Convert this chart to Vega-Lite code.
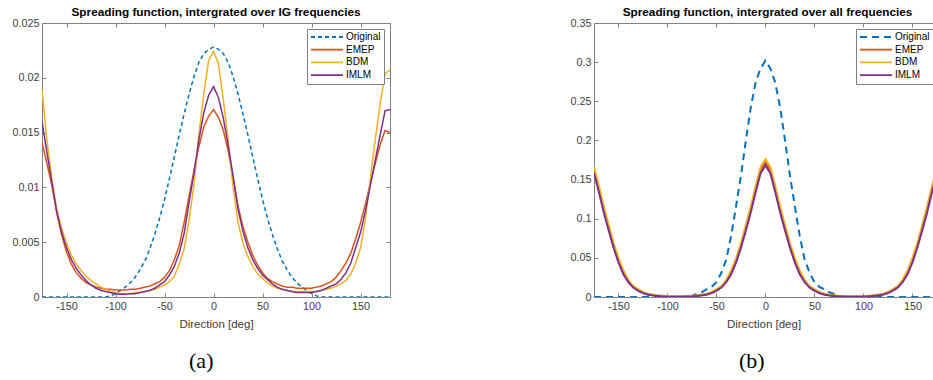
{
"$schema": "https://vega.github.io/schema/vega-lite/v6.json",
"padding": {"left": 11, "top": 7, "right": 0, "bottom": 0},
"config": {
  "font": "Liberation Sans",
  "view": {"stroke": null},
  "axis": {"domainColor": "#808080", "tickColor": "#808080", "labelColor": "#404040", "titleColor": "#404040", "labelFontSize": 10.8, "titleFontSize": 11.5, "titleFontWeight": "normal", "grid": false, "tickSize": -4, "labelPadding": 7, "labelOverlap": false},
  "title": {"fontSize": 11.8, "fontWeight": "bold", "color": "#000000"},
  "legend": {"orient": "none", "legendX": 265, "legendY": 6, "title": null, "symbolType": "M-1,0H7", "symbolSize": 64, "symbolStrokeWidth": 1.8, "labelFontSize": 10, "labelColor": "#000000", "fillColor": "white", "strokeColor": "#808080", "padding": 3, "rowPadding": 2.7, "labelOffset": 26, "cornerRadius": 0}
},
"datasets": {
"a": [
{"s":"Original","d":-175,"v":0},{"s":"Original","d":-170,"v":0},{"s":"Original","d":-165,"v":0},{"s":"Original","d":-160,"v":0},{"s":"Original","d":-155,"v":0},{"s":"Original","d":-150,"v":0},{"s":"Original","d":-145,"v":0},{"s":"Original","d":-140,"v":0},{"s":"Original","d":-135,"v":0},{"s":"Original","d":-130,"v":0},{"s":"Original","d":-125,"v":0},{"s":"Original","d":-120,"v":0},{"s":"Original","d":-115,"v":0},{"s":"Original","d":-110,"v":0},{"s":"Original","d":-105,"v":0.0001},{"s":"Original","d":-100,"v":0.0003},{"s":"Original","d":-95,"v":0.0006},{"s":"Original","d":-90,"v":0.0009},{"s":"Original","d":-85,"v":0.0013},{"s":"Original","d":-80,"v":0.0018},{"s":"Original","d":-75,"v":0.0025},{"s":"Original","d":-70,"v":0.0033},{"s":"Original","d":-65,"v":0.0044},{"s":"Original","d":-60,"v":0.0057},{"s":"Original","d":-55,"v":0.0072},{"s":"Original","d":-50,"v":0.0089},{"s":"Original","d":-45,"v":0.0108},{"s":"Original","d":-40,"v":0.0128},{"s":"Original","d":-35,"v":0.0148},{"s":"Original","d":-30,"v":0.0167},{"s":"Original","d":-25,"v":0.0185},{"s":"Original","d":-20,"v":0.0201},{"s":"Original","d":-15,"v":0.0214},{"s":"Original","d":-10,"v":0.0222},{"s":"Original","d":-5,"v":0.0226},{"s":"Original","d":0,"v":0.0228},{"s":"Original","d":5,"v":0.0226},{"s":"Original","d":10,"v":0.0222},{"s":"Original","d":15,"v":0.0214},{"s":"Original","d":20,"v":0.0201},{"s":"Original","d":25,"v":0.0185},{"s":"Original","d":30,"v":0.0167},{"s":"Original","d":35,"v":0.0148},{"s":"Original","d":40,"v":0.0128},{"s":"Original","d":45,"v":0.0108},{"s":"Original","d":50,"v":0.0089},{"s":"Original","d":55,"v":0.0072},{"s":"Original","d":60,"v":0.0057},{"s":"Original","d":65,"v":0.0044},{"s":"Original","d":70,"v":0.0033},{"s":"Original","d":75,"v":0.0025},{"s":"Original","d":80,"v":0.0018},{"s":"Original","d":85,"v":0.0013},{"s":"Original","d":90,"v":0.0009},{"s":"Original","d":95,"v":0.0006},{"s":"Original","d":100,"v":0.0003},{"s":"Original","d":105,"v":0.0001},{"s":"Original","d":110,"v":0},{"s":"Original","d":120,"v":0},{"s":"Original","d":130,"v":0},{"s":"Original","d":140,"v":0},{"s":"Original","d":150,"v":0},{"s":"Original","d":160,"v":0},{"s":"Original","d":170,"v":0},{"s":"Original","d":180,"v":0},
{"s":"EMEP","d":-175,"v":0.0141},{"s":"EMEP","d":-170,"v":0.0122},{"s":"EMEP","d":-165,"v":0.0102},{"s":"EMEP","d":-160,"v":0.0077},{"s":"EMEP","d":-155,"v":0.0057},{"s":"EMEP","d":-150,"v":0.0041},{"s":"EMEP","d":-145,"v":0.0030},{"s":"EMEP","d":-140,"v":0.0022},{"s":"EMEP","d":-135,"v":0.0017},{"s":"EMEP","d":-130,"v":0.0013},{"s":"EMEP","d":-125,"v":0.0011},{"s":"EMEP","d":-120,"v":0.0009},{"s":"EMEP","d":-115,"v":0.0008},{"s":"EMEP","d":-110,"v":0.0007},{"s":"EMEP","d":-105,"v":0.0007},{"s":"EMEP","d":-100,"v":0.00065},{"s":"EMEP","d":-95,"v":0.00063},{"s":"EMEP","d":-90,"v":0.00065},{"s":"EMEP","d":-85,"v":0.0007},{"s":"EMEP","d":-80,"v":0.0007},{"s":"EMEP","d":-75,"v":0.0008},{"s":"EMEP","d":-70,"v":0.0009},{"s":"EMEP","d":-65,"v":0.0010},{"s":"EMEP","d":-60,"v":0.0012},{"s":"EMEP","d":-55,"v":0.0014},{"s":"EMEP","d":-50,"v":0.0018},{"s":"EMEP","d":-45,"v":0.0024},{"s":"EMEP","d":-40,"v":0.0034},{"s":"EMEP","d":-35,"v":0.0047},{"s":"EMEP","d":-30,"v":0.0068},{"s":"EMEP","d":-25,"v":0.0092},{"s":"EMEP","d":-20,"v":0.0115},{"s":"EMEP","d":-15,"v":0.0137},{"s":"EMEP","d":-10,"v":0.0155},{"s":"EMEP","d":-5,"v":0.0165},{"s":"EMEP","d":0,"v":0.0171},{"s":"EMEP","d":5,"v":0.0164},{"s":"EMEP","d":10,"v":0.0152},{"s":"EMEP","d":15,"v":0.0133},{"s":"EMEP","d":20,"v":0.0108},{"s":"EMEP","d":25,"v":0.0083},{"s":"EMEP","d":30,"v":0.0064},{"s":"EMEP","d":35,"v":0.0050},{"s":"EMEP","d":40,"v":0.0038},{"s":"EMEP","d":45,"v":0.0029},{"s":"EMEP","d":50,"v":0.0022},{"s":"EMEP","d":55,"v":0.0017},{"s":"EMEP","d":60,"v":0.0014},{"s":"EMEP","d":65,"v":0.0012},{"s":"EMEP","d":70,"v":0.0010},{"s":"EMEP","d":75,"v":0.0009},{"s":"EMEP","d":80,"v":0.0009},{"s":"EMEP","d":85,"v":0.0008},{"s":"EMEP","d":90,"v":0.0008},{"s":"EMEP","d":95,"v":0.0008},{"s":"EMEP","d":100,"v":0.0008},{"s":"EMEP","d":105,"v":0.0009},{"s":"EMEP","d":110,"v":0.0010},{"s":"EMEP","d":115,"v":0.0012},{"s":"EMEP","d":120,"v":0.0014},{"s":"EMEP","d":125,"v":0.0018},{"s":"EMEP","d":130,"v":0.0024},{"s":"EMEP","d":135,"v":0.0031},{"s":"EMEP","d":140,"v":0.0040},{"s":"EMEP","d":145,"v":0.0053},{"s":"EMEP","d":150,"v":0.0068},{"s":"EMEP","d":155,"v":0.0085},{"s":"EMEP","d":160,"v":0.0104},{"s":"EMEP","d":165,"v":0.0122},{"s":"EMEP","d":170,"v":0.0139},{"s":"EMEP","d":175,"v":0.0152},{"s":"EMEP","d":180,"v":0.0150},
{"s":"BDM","d":-175,"v":0.0189},{"s":"BDM","d":-170,"v":0.0143},{"s":"BDM","d":-165,"v":0.0108},{"s":"BDM","d":-160,"v":0.0080},{"s":"BDM","d":-155,"v":0.0063},{"s":"BDM","d":-150,"v":0.0049},{"s":"BDM","d":-145,"v":0.0038},{"s":"BDM","d":-140,"v":0.0030},{"s":"BDM","d":-135,"v":0.0024},{"s":"BDM","d":-130,"v":0.0019},{"s":"BDM","d":-125,"v":0.0015},{"s":"BDM","d":-120,"v":0.0012},{"s":"BDM","d":-115,"v":0.0009},{"s":"BDM","d":-110,"v":0.0007},{"s":"BDM","d":-105,"v":0.0005},{"s":"BDM","d":-100,"v":0.0004},{"s":"BDM","d":-95,"v":0.0003},{"s":"BDM","d":-90,"v":0.0003},{"s":"BDM","d":-85,"v":0.0003},{"s":"BDM","d":-80,"v":0.0004},{"s":"BDM","d":-75,"v":0.0004},{"s":"BDM","d":-70,"v":0.0005},{"s":"BDM","d":-65,"v":0.0006},{"s":"BDM","d":-60,"v":0.0007},{"s":"BDM","d":-55,"v":0.0009},{"s":"BDM","d":-50,"v":0.0011},{"s":"BDM","d":-45,"v":0.0014},{"s":"BDM","d":-40,"v":0.0019},{"s":"BDM","d":-35,"v":0.0030},{"s":"BDM","d":-30,"v":0.0044},{"s":"BDM","d":-25,"v":0.0070},{"s":"BDM","d":-20,"v":0.0102},{"s":"BDM","d":-15,"v":0.0148},{"s":"BDM","d":-10,"v":0.0185},{"s":"BDM","d":-5,"v":0.0216},{"s":"BDM","d":0,"v":0.0224},{"s":"BDM","d":5,"v":0.0213},{"s":"BDM","d":10,"v":0.0180},{"s":"BDM","d":15,"v":0.0142},{"s":"BDM","d":20,"v":0.0100},{"s":"BDM","d":25,"v":0.0068},{"s":"BDM","d":30,"v":0.0049},{"s":"BDM","d":35,"v":0.0037},{"s":"BDM","d":40,"v":0.0028},{"s":"BDM","d":45,"v":0.0021},{"s":"BDM","d":50,"v":0.0017},{"s":"BDM","d":55,"v":0.0013},{"s":"BDM","d":60,"v":0.0010},{"s":"BDM","d":65,"v":0.0008},{"s":"BDM","d":70,"v":0.0007},{"s":"BDM","d":75,"v":0.0006},{"s":"BDM","d":80,"v":0.0005},{"s":"BDM","d":85,"v":0.0005},{"s":"BDM","d":90,"v":0.0005},{"s":"BDM","d":95,"v":0.0005},{"s":"BDM","d":100,"v":0.0005},{"s":"BDM","d":105,"v":0.0005},{"s":"BDM","d":110,"v":0.0006},{"s":"BDM","d":115,"v":0.0007},{"s":"BDM","d":120,"v":0.0008},{"s":"BDM","d":125,"v":0.0010},{"s":"BDM","d":130,"v":0.0012},{"s":"BDM","d":135,"v":0.0015},{"s":"BDM","d":140,"v":0.0021},{"s":"BDM","d":145,"v":0.0031},{"s":"BDM","d":150,"v":0.0045},{"s":"BDM","d":155,"v":0.0072},{"s":"BDM","d":160,"v":0.0108},{"s":"BDM","d":165,"v":0.0144},{"s":"BDM","d":170,"v":0.0176},{"s":"BDM","d":175,"v":0.0204},{"s":"BDM","d":180,"v":0.0207},
{"s":"IMLM","d":-175,"v":0.0160},{"s":"IMLM","d":-170,"v":0.0132},{"s":"IMLM","d":-165,"v":0.0105},{"s":"IMLM","d":-160,"v":0.0078},{"s":"IMLM","d":-155,"v":0.0059},{"s":"IMLM","d":-150,"v":0.0045},{"s":"IMLM","d":-145,"v":0.0034},{"s":"IMLM","d":-140,"v":0.0026},{"s":"IMLM","d":-135,"v":0.0020},{"s":"IMLM","d":-130,"v":0.0015},{"s":"IMLM","d":-125,"v":0.0011},{"s":"IMLM","d":-120,"v":0.0008},{"s":"IMLM","d":-115,"v":0.0006},{"s":"IMLM","d":-110,"v":0.0005},{"s":"IMLM","d":-105,"v":0.0004},{"s":"IMLM","d":-100,"v":0.0003},{"s":"IMLM","d":-95,"v":0.00025},{"s":"IMLM","d":-90,"v":0.00025},{"s":"IMLM","d":-85,"v":0.0003},{"s":"IMLM","d":-80,"v":0.0003},{"s":"IMLM","d":-75,"v":0.0004},{"s":"IMLM","d":-70,"v":0.0005},{"s":"IMLM","d":-65,"v":0.0006},{"s":"IMLM","d":-60,"v":0.0008},{"s":"IMLM","d":-55,"v":0.0011},{"s":"IMLM","d":-50,"v":0.0014},{"s":"IMLM","d":-45,"v":0.0020},{"s":"IMLM","d":-40,"v":0.0028},{"s":"IMLM","d":-35,"v":0.0040},{"s":"IMLM","d":-30,"v":0.0058},{"s":"IMLM","d":-25,"v":0.0086},{"s":"IMLM","d":-20,"v":0.0113},{"s":"IMLM","d":-15,"v":0.0143},{"s":"IMLM","d":-10,"v":0.0168},{"s":"IMLM","d":-5,"v":0.0184},{"s":"IMLM","d":0,"v":0.0192},{"s":"IMLM","d":5,"v":0.0182},{"s":"IMLM","d":10,"v":0.0163},{"s":"IMLM","d":15,"v":0.0138},{"s":"IMLM","d":20,"v":0.0110},{"s":"IMLM","d":25,"v":0.0080},{"s":"IMLM","d":30,"v":0.0060},{"s":"IMLM","d":35,"v":0.0045},{"s":"IMLM","d":40,"v":0.0034},{"s":"IMLM","d":45,"v":0.0026},{"s":"IMLM","d":50,"v":0.0020},{"s":"IMLM","d":55,"v":0.0016},{"s":"IMLM","d":60,"v":0.0012},{"s":"IMLM","d":65,"v":0.0009},{"s":"IMLM","d":70,"v":0.0007},{"s":"IMLM","d":75,"v":0.0006},{"s":"IMLM","d":80,"v":0.0005},{"s":"IMLM","d":85,"v":0.0004},{"s":"IMLM","d":90,"v":0.0004},{"s":"IMLM","d":95,"v":0.0004},{"s":"IMLM","d":100,"v":0.0004},{"s":"IMLM","d":105,"v":0.0005},{"s":"IMLM","d":110,"v":0.0006},{"s":"IMLM","d":115,"v":0.0008},{"s":"IMLM","d":120,"v":0.0010},{"s":"IMLM","d":125,"v":0.0012},{"s":"IMLM","d":130,"v":0.0016},{"s":"IMLM","d":135,"v":0.0022},{"s":"IMLM","d":140,"v":0.0031},{"s":"IMLM","d":145,"v":0.0045},{"s":"IMLM","d":150,"v":0.0059},{"s":"IMLM","d":155,"v":0.0079},{"s":"IMLM","d":160,"v":0.0102},{"s":"IMLM","d":165,"v":0.0125},{"s":"IMLM","d":170,"v":0.0148},{"s":"IMLM","d":175,"v":0.0170},{"s":"IMLM","d":180,"v":0.0171}
],
"b": [
{"s":"Original","d":-175,"v":0},{"s":"Original","d":-160,"v":0},{"s":"Original","d":-140,"v":0},{"s":"Original","d":-120,"v":0},{"s":"Original","d":-100,"v":0},{"s":"Original","d":-85,"v":0},{"s":"Original","d":-80,"v":0},{"s":"Original","d":-75,"v":0.0015},{"s":"Original","d":-70,"v":0.004},{"s":"Original","d":-65,"v":0.006},{"s":"Original","d":-60,"v":0.010},{"s":"Original","d":-55,"v":0.013},{"s":"Original","d":-50,"v":0.019},{"s":"Original","d":-45,"v":0.031},{"s":"Original","d":-40,"v":0.048},{"s":"Original","d":-35,"v":0.078},{"s":"Original","d":-30,"v":0.116},{"s":"Original","d":-25,"v":0.155},{"s":"Original","d":-20,"v":0.200},{"s":"Original","d":-15,"v":0.242},{"s":"Original","d":-10,"v":0.274},{"s":"Original","d":-5,"v":0.292},{"s":"Original","d":0,"v":0.302},{"s":"Original","d":5,"v":0.292},{"s":"Original","d":10,"v":0.274},{"s":"Original","d":15,"v":0.242},{"s":"Original","d":20,"v":0.200},{"s":"Original","d":25,"v":0.155},{"s":"Original","d":30,"v":0.116},{"s":"Original","d":35,"v":0.078},{"s":"Original","d":40,"v":0.048},{"s":"Original","d":45,"v":0.031},{"s":"Original","d":50,"v":0.019},{"s":"Original","d":55,"v":0.013},{"s":"Original","d":60,"v":0.010},{"s":"Original","d":65,"v":0.006},{"s":"Original","d":70,"v":0.004},{"s":"Original","d":75,"v":0.0015},{"s":"Original","d":80,"v":0},{"s":"Original","d":100,"v":0},{"s":"Original","d":120,"v":0},{"s":"Original","d":140,"v":0},{"s":"Original","d":160,"v":0},{"s":"Original","d":180,"v":0},
{"s":"EMEP","d":-175,"v":0.162},{"s":"EMEP","d":-170,"v":0.138},{"s":"EMEP","d":-165,"v":0.112},{"s":"EMEP","d":-160,"v":0.088},{"s":"EMEP","d":-155,"v":0.065},{"s":"EMEP","d":-150,"v":0.046},{"s":"EMEP","d":-145,"v":0.031},{"s":"EMEP","d":-140,"v":0.020},{"s":"EMEP","d":-135,"v":0.013},{"s":"EMEP","d":-130,"v":0.009},{"s":"EMEP","d":-125,"v":0.0055},{"s":"EMEP","d":-120,"v":0.0035},{"s":"EMEP","d":-115,"v":0.0025},{"s":"EMEP","d":-110,"v":0.0015},{"s":"EMEP","d":-105,"v":0.0011},{"s":"EMEP","d":-100,"v":0.0008},{"s":"EMEP","d":-95,"v":0.0006},{"s":"EMEP","d":-90,"v":0.0005},{"s":"EMEP","d":-85,"v":0.0006},{"s":"EMEP","d":-80,"v":0.0008},{"s":"EMEP","d":-75,"v":0.0011},{"s":"EMEP","d":-70,"v":0.0015},{"s":"EMEP","d":-65,"v":0.0025},{"s":"EMEP","d":-60,"v":0.0035},{"s":"EMEP","d":-55,"v":0.0055},{"s":"EMEP","d":-50,"v":0.009},{"s":"EMEP","d":-45,"v":0.013},{"s":"EMEP","d":-40,"v":0.020},{"s":"EMEP","d":-35,"v":0.031},{"s":"EMEP","d":-30,"v":0.046},{"s":"EMEP","d":-25,"v":0.065},{"s":"EMEP","d":-20,"v":0.088},{"s":"EMEP","d":-15,"v":0.112},{"s":"EMEP","d":-10,"v":0.138},{"s":"EMEP","d":-5,"v":0.162},{"s":"EMEP","d":0,"v":0.172},{"s":"EMEP","d":5,"v":0.162},{"s":"EMEP","d":10,"v":0.138},{"s":"EMEP","d":15,"v":0.112},{"s":"EMEP","d":20,"v":0.088},{"s":"EMEP","d":25,"v":0.065},{"s":"EMEP","d":30,"v":0.046},{"s":"EMEP","d":35,"v":0.031},{"s":"EMEP","d":40,"v":0.020},{"s":"EMEP","d":45,"v":0.013},{"s":"EMEP","d":50,"v":0.009},{"s":"EMEP","d":55,"v":0.0055},{"s":"EMEP","d":60,"v":0.0035},{"s":"EMEP","d":65,"v":0.0025},{"s":"EMEP","d":70,"v":0.0015},{"s":"EMEP","d":75,"v":0.0011},{"s":"EMEP","d":80,"v":0.0008},{"s":"EMEP","d":85,"v":0.0006},{"s":"EMEP","d":90,"v":0.0005},{"s":"EMEP","d":95,"v":0.0006},{"s":"EMEP","d":100,"v":0.0008},{"s":"EMEP","d":105,"v":0.0011},{"s":"EMEP","d":110,"v":0.0015},{"s":"EMEP","d":115,"v":0.0025},{"s":"EMEP","d":120,"v":0.0035},{"s":"EMEP","d":125,"v":0.0055},{"s":"EMEP","d":130,"v":0.009},{"s":"EMEP","d":135,"v":0.013},{"s":"EMEP","d":140,"v":0.020},{"s":"EMEP","d":145,"v":0.031},{"s":"EMEP","d":150,"v":0.046},{"s":"EMEP","d":155,"v":0.065},{"s":"EMEP","d":160,"v":0.088},{"s":"EMEP","d":165,"v":0.112},{"s":"EMEP","d":170,"v":0.138},{"s":"EMEP","d":175,"v":0.162},{"s":"EMEP","d":180,"v":0.172},
{"s":"BDM","d":-175,"v":0.166},{"s":"BDM","d":-170,"v":0.142},{"s":"BDM","d":-165,"v":0.116},{"s":"BDM","d":-160,"v":0.092},{"s":"BDM","d":-155,"v":0.069},{"s":"BDM","d":-150,"v":0.050},{"s":"BDM","d":-145,"v":0.034},{"s":"BDM","d":-140,"v":0.022},{"s":"BDM","d":-135,"v":0.014},{"s":"BDM","d":-130,"v":0.010},{"s":"BDM","d":-125,"v":0.0065},{"s":"BDM","d":-120,"v":0.004},{"s":"BDM","d":-115,"v":0.003},{"s":"BDM","d":-110,"v":0.002},{"s":"BDM","d":-105,"v":0.0015},{"s":"BDM","d":-100,"v":0.0012},{"s":"BDM","d":-95,"v":0.001},{"s":"BDM","d":-90,"v":0.0009},{"s":"BDM","d":-85,"v":0.001},{"s":"BDM","d":-80,"v":0.0012},{"s":"BDM","d":-75,"v":0.0015},{"s":"BDM","d":-70,"v":0.002},{"s":"BDM","d":-65,"v":0.003},{"s":"BDM","d":-60,"v":0.004},{"s":"BDM","d":-55,"v":0.0065},{"s":"BDM","d":-50,"v":0.010},{"s":"BDM","d":-45,"v":0.014},{"s":"BDM","d":-40,"v":0.022},{"s":"BDM","d":-35,"v":0.034},{"s":"BDM","d":-30,"v":0.050},{"s":"BDM","d":-25,"v":0.069},{"s":"BDM","d":-20,"v":0.092},{"s":"BDM","d":-15,"v":0.116},{"s":"BDM","d":-10,"v":0.142},{"s":"BDM","d":-5,"v":0.166},{"s":"BDM","d":0,"v":0.176},{"s":"BDM","d":5,"v":0.166},{"s":"BDM","d":10,"v":0.142},{"s":"BDM","d":15,"v":0.116},{"s":"BDM","d":20,"v":0.092},{"s":"BDM","d":25,"v":0.069},{"s":"BDM","d":30,"v":0.050},{"s":"BDM","d":35,"v":0.034},{"s":"BDM","d":40,"v":0.022},{"s":"BDM","d":45,"v":0.014},{"s":"BDM","d":50,"v":0.010},{"s":"BDM","d":55,"v":0.0065},{"s":"BDM","d":60,"v":0.004},{"s":"BDM","d":65,"v":0.003},{"s":"BDM","d":70,"v":0.002},{"s":"BDM","d":75,"v":0.0015},{"s":"BDM","d":80,"v":0.0012},{"s":"BDM","d":85,"v":0.001},{"s":"BDM","d":90,"v":0.0009},{"s":"BDM","d":95,"v":0.001},{"s":"BDM","d":100,"v":0.0012},{"s":"BDM","d":105,"v":0.0015},{"s":"BDM","d":110,"v":0.002},{"s":"BDM","d":115,"v":0.003},{"s":"BDM","d":120,"v":0.004},{"s":"BDM","d":125,"v":0.0065},{"s":"BDM","d":130,"v":0.010},{"s":"BDM","d":135,"v":0.014},{"s":"BDM","d":140,"v":0.022},{"s":"BDM","d":145,"v":0.034},{"s":"BDM","d":150,"v":0.050},{"s":"BDM","d":155,"v":0.069},{"s":"BDM","d":160,"v":0.092},{"s":"BDM","d":165,"v":0.116},{"s":"BDM","d":170,"v":0.142},{"s":"BDM","d":175,"v":0.166},{"s":"BDM","d":180,"v":0.176},
{"s":"IMLM","d":-175,"v":0.158},{"s":"IMLM","d":-170,"v":0.134},{"s":"IMLM","d":-165,"v":0.108},{"s":"IMLM","d":-160,"v":0.085},{"s":"IMLM","d":-155,"v":0.063},{"s":"IMLM","d":-150,"v":0.044},{"s":"IMLM","d":-145,"v":0.029},{"s":"IMLM","d":-140,"v":0.019},{"s":"IMLM","d":-135,"v":0.012},{"s":"IMLM","d":-130,"v":0.008},{"s":"IMLM","d":-125,"v":0.005},{"s":"IMLM","d":-120,"v":0.003},{"s":"IMLM","d":-115,"v":0.002},{"s":"IMLM","d":-110,"v":0.0012},{"s":"IMLM","d":-105,"v":0.0008},{"s":"IMLM","d":-100,"v":0.0005},{"s":"IMLM","d":-95,"v":0.0004},{"s":"IMLM","d":-90,"v":0.0003},{"s":"IMLM","d":-85,"v":0.0004},{"s":"IMLM","d":-80,"v":0.0005},{"s":"IMLM","d":-75,"v":0.0008},{"s":"IMLM","d":-70,"v":0.0012},{"s":"IMLM","d":-65,"v":0.002},{"s":"IMLM","d":-60,"v":0.003},{"s":"IMLM","d":-55,"v":0.005},{"s":"IMLM","d":-50,"v":0.008},{"s":"IMLM","d":-45,"v":0.012},{"s":"IMLM","d":-40,"v":0.019},{"s":"IMLM","d":-35,"v":0.029},{"s":"IMLM","d":-30,"v":0.044},{"s":"IMLM","d":-25,"v":0.063},{"s":"IMLM","d":-20,"v":0.085},{"s":"IMLM","d":-15,"v":0.108},{"s":"IMLM","d":-10,"v":0.134},{"s":"IMLM","d":-5,"v":0.158},{"s":"IMLM","d":0,"v":0.168},{"s":"IMLM","d":5,"v":0.158},{"s":"IMLM","d":10,"v":0.134},{"s":"IMLM","d":15,"v":0.108},{"s":"IMLM","d":20,"v":0.085},{"s":"IMLM","d":25,"v":0.063},{"s":"IMLM","d":30,"v":0.044},{"s":"IMLM","d":35,"v":0.029},{"s":"IMLM","d":40,"v":0.019},{"s":"IMLM","d":45,"v":0.012},{"s":"IMLM","d":50,"v":0.008},{"s":"IMLM","d":55,"v":0.005},{"s":"IMLM","d":60,"v":0.003},{"s":"IMLM","d":65,"v":0.002},{"s":"IMLM","d":70,"v":0.0012},{"s":"IMLM","d":75,"v":0.0008},{"s":"IMLM","d":80,"v":0.0005},{"s":"IMLM","d":85,"v":0.0004},{"s":"IMLM","d":90,"v":0.0003},{"s":"IMLM","d":95,"v":0.0004},{"s":"IMLM","d":100,"v":0.0005},{"s":"IMLM","d":105,"v":0.0008},{"s":"IMLM","d":110,"v":0.0012},{"s":"IMLM","d":115,"v":0.002},{"s":"IMLM","d":120,"v":0.003},{"s":"IMLM","d":125,"v":0.005},{"s":"IMLM","d":130,"v":0.008},{"s":"IMLM","d":135,"v":0.012},{"s":"IMLM","d":140,"v":0.019},{"s":"IMLM","d":145,"v":0.029},{"s":"IMLM","d":150,"v":0.044},{"s":"IMLM","d":155,"v":0.063},{"s":"IMLM","d":160,"v":0.085},{"s":"IMLM","d":165,"v":0.108},{"s":"IMLM","d":170,"v":0.134},{"s":"IMLM","d":175,"v":0.158},{"s":"IMLM","d":180,"v":0.168}
]
},
"spacing": 178,
"hconcat": [
{
  "title": {"text": "(a)", "orient": "bottom", "font": "Liberation Serif", "fontSize": 22, "fontWeight": "normal", "offset": 21, "anchor": "middle"},
  "vconcat": [{
    "width": 348, "height": 274,
    "title": {"text": "Spreading function, intergrated over IG frequencies", "offset": -2, "anchor": "middle"},
    "data": {"name": "a"},
    "resolve": {"axis": {"x": "independent", "y": "independent"}},
    "layer": [
      {
        "mark": {"type": "line", "clip": true, "strokeWidth": 1.5},
        "encoding": {
          "x": {"field": "d", "type": "quantitative", "scale": {"domain": [-175, 180], "nice": false, "zero": false},
                "axis": {"values": [-150, -100, -50, 0, 50, 100, 150], "labelExpr": "'' + datum.value", "title": "Direction [deg]", "titlePadding": 8}},
          "y": {"field": "v", "type": "quantitative", "scale": {"domain": [0, 0.025], "nice": false},
                "axis": {"values": [0, 0.005, 0.01, 0.015, 0.02, 0.025], "labelExpr": "'' + datum.value", "title": null}},
          "color": {"field": "s", "type": "nominal", "sort": ["Original", "EMEP", "BDM", "IMLM"],
                    "scale": {"domain": ["Original", "EMEP", "BDM", "IMLM"], "range": ["#0072BD", "#D95319", "#EDB120", "#7E2F8E"]}},
          "strokeDash": {"field": "s", "type": "nominal", "sort": ["Original", "EMEP", "BDM", "IMLM"],
                    "scale": {"domain": ["Original", "EMEP", "BDM", "IMLM"], "range": [[4, 3], [1, 0], [1, 0], [1, 0]]}}
        }
      },
      {
        "mark": {"type": "line", "strokeOpacity": 0},
        "encoding": {
          "x": {"field": "d", "type": "quantitative", "axis": {"orient": "top", "values": [-150, -100, -50, 0, 50, 100, 150], "labels": false, "title": null}},
          "y": {"field": "v", "type": "quantitative", "axis": {"orient": "right", "values": [0, 0.005, 0.01, 0.015, 0.02, 0.025], "labels": false, "title": null}},
          "detail": {"field": "s"}
        }
      }
    ]
  }]
},
{
  "title": {"text": "(b)", "orient": "bottom", "font": "Liberation Serif", "fontSize": 22, "fontWeight": "normal", "offset": 21, "anchor": "middle"},
  "vconcat": [{
    "width": 339, "height": 274,
    "title": {"text": "Spreading function, intergrated over all frequencies", "offset": -2, "anchor": "middle", "dx": 4},
    "data": {"name": "b"},
    "resolve": {"axis": {"x": "independent"}},
    "layer": [
      {
        "mark": {"type": "line", "clip": true, "strokeWidth": 2},
        "encoding": {
          "x": {"field": "d", "type": "quantitative", "scale": {"domain": [-175, 171], "nice": false, "zero": false},
                "axis": {"values": [-150, -100, -50, 0, 50, 100, 150], "labelExpr": "'' + datum.value", "title": "Direction [deg]", "titlePadding": 8}},
          "y": {"field": "v", "type": "quantitative", "scale": {"domain": [0, 0.35], "nice": false},
                "axis": {"values": [0, 0.05, 0.1, 0.15, 0.2, 0.25, 0.3, 0.35], "labelExpr": "'' + datum.value", "title": null}},
          "color": {"field": "s", "type": "nominal", "sort": ["Original", "EMEP", "BDM", "IMLM"],
                    "scale": {"domain": ["Original", "EMEP", "BDM", "IMLM"], "range": ["#0072BD", "#D95319", "#EDB120", "#7E2F8E"]},
                    "legend": {"legendX": 262}},
          "strokeDash": {"field": "s", "type": "nominal", "sort": ["Original", "EMEP", "BDM", "IMLM"],
                    "scale": {"domain": ["Original", "EMEP", "BDM", "IMLM"], "range": [[7, 5], [1, 0], [1, 0], [1, 0]]},
                    "legend": {"legendX": 262}}
        }
      },
      {
        "mark": {"type": "line", "strokeOpacity": 0, "clip": true},
        "encoding": {
          "x": {"field": "d", "type": "quantitative", "axis": {"orient": "top", "values": [-150, -100, -50, 0, 50, 100, 150], "labels": false, "title": null}},
          "y": {"field": "v", "type": "quantitative", "axis": {"values": [0, 0.05, 0.1, 0.15, 0.2, 0.25, 0.3, 0.35], "labelExpr": "'' + datum.value", "title": null}},
          "detail": {"field": "s"}
        }
      }
    ]
  }]
}
],
"resolve": {"scale": {"color": "independent", "strokeDash": "independent"}, "legend": {"color": "independent", "strokeDash": "independent"}}
}
